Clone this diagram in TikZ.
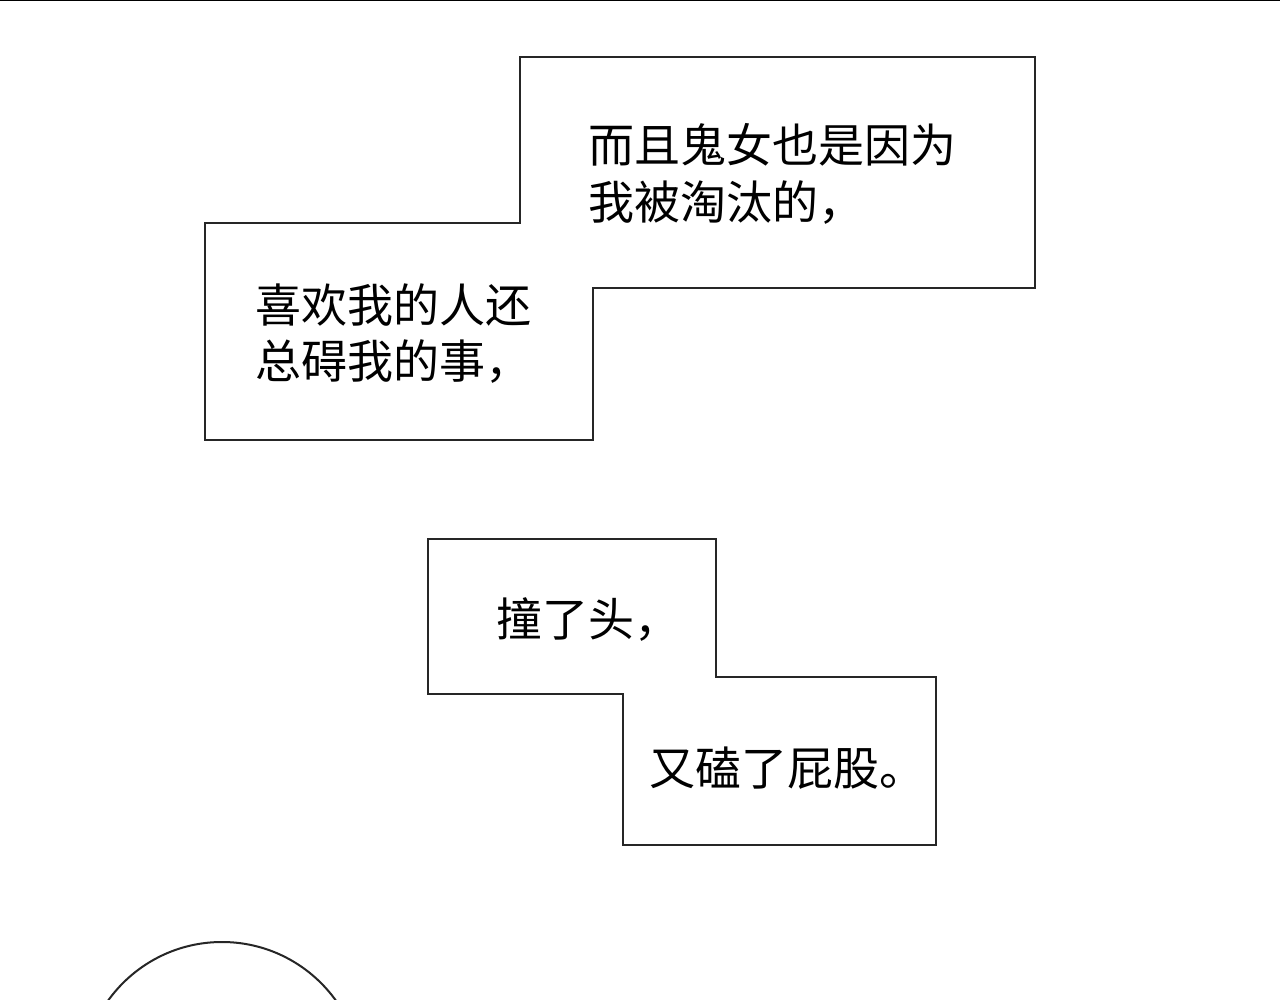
\documentclass[tikz,border=0pt]{standalone}
\usepackage{fontspec}
\newfontfamily\cjk{Noto Sans CJK SC}
\begin{document}
\begin{tikzpicture}[x=1pt,y=-1pt,
  box/.style={draw=black!85,line width=2.2pt,fill=white},
  txt/.style={anchor=west,inner sep=0pt,font=\cjk\fontsize{46}{58}\selectfont}]
\useasboundingbox (0,0) rectangle (1280,1000);
\fill[white] (0,0) rectangle (1280,1000);
\draw[line width=2pt] (0,0) -- (1280,0);
\begin{scope}
\clip (0,0) rectangle (1280,1000);
\draw[line width=2pt,black!85] (222,1082) ellipse (140 and 140);
\end{scope}
\draw[box] (520,57) -- (1035,57) -- (1035,288) -- (593,288) -- (593,440) -- (205,440) -- (205,223) -- (520,223) -- cycle;
\draw[box] (428,539) -- (716,539) -- (716,677) -- (936,677) -- (936,845) -- (623,845) -- (623,694) -- (428,694) -- cycle;
\node[txt] (a1) at (588,145) {而且鬼女也是因为};
\node[txt] (a2) at (588,203) {我被淘汰的，};
\node[txt] (b1) at (255,305) {喜欢我的人还};
\node[txt] (b2) at (255,362) {总碍我的事，};
\node[txt] (c1) at (496,620) {撞了头，};
\node[txt] (d1) at (649,768) {又磕了屁股。};
\end{tikzpicture}
\end{document}
